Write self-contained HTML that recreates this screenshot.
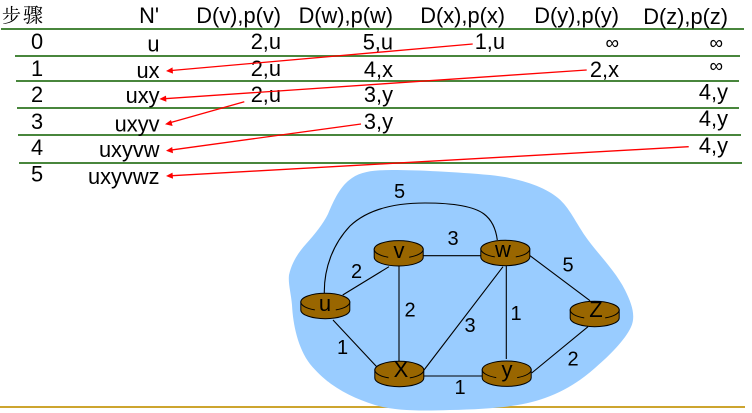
<!DOCTYPE html>
<html>
<head>
<meta charset="utf-8">
<style>
html,body{margin:0;padding:0;background:#fff;width:752px;height:413px;overflow:hidden}
svg{display:block;filter:blur(0.35px)}
text{font-family:"Liberation Sans",sans-serif;fill:#000}
.t{font-size:21.8px;text-anchor:end}
.c{font-size:21.8px;text-anchor:middle}
.n{font-size:20px;text-anchor:middle}
.r{font-size:22px;text-anchor:middle}
.g{stroke:#48863c;stroke-width:2;fill:none}
.e{stroke:#000;stroke-width:1.1;fill:none}
.a{stroke:#f00;stroke-width:1.3;fill:none}
.h{fill:#f00}
.inf{font-size:19px;text-anchor:end}
.rb{fill:#996600;stroke:#000;stroke-width:1}
.rf{fill:#996600}
.rl{fill:none;stroke:#000;stroke-width:1}
</style>
</head>
<body>
<svg width="752" height="413" viewBox="0 0 752 413" xmlns="http://www.w3.org/2000/svg">
<defs>
<g id="router">
<path class="rb" d="M-24.5 9V17A24.5 8.7 0 0 0 24.5 17V9Z"/>
<ellipse class="rf" cx="0" cy="9" rx="24.5" ry="8.7"/>
<path class="rl" d="M-24.5 9A24.5 8.7 0 0 1 24.5 9"/>
<path class="rl" d="M-24.5 9A24.5 8.7 0 0 0 -10.5 16.9"/>
<path class="rl" d="M10.5 16.9A24.5 8.7 0 0 0 24.5 9"/>
</g>
</defs>

<!-- gold baseline -->
<line x1="0" y1="407" x2="745" y2="407" stroke="#cda52f" stroke-width="2"/>

<!-- cloud -->
<path fill="#99ccff" d="M289 275C292 262 298 253 306 244C315 234 323 224 328 214C334 200 340 186 352 178C362 171 376 170 392 170C420 170 455 172 490 175C520 178 545 187 558 198C570 208 575 222 588 240C600 256 616 272 625 290C632 304 636 316 631 327C625 340 610 355 595 368C580 381 565 391 545 398C520 407 490 409 450 410C420 411 395 411 375 405C350 397 328 386 310 364C298 348 293 325 292 305C291 293 288 284 289 275Z"/>

<!-- green rules -->
<line class="g" x1="1" y1="29" x2="744" y2="29"/>
<line class="g" x1="15" y1="56" x2="740" y2="56"/>
<line class="g" x1="16" y1="81" x2="739" y2="81"/>
<line class="g" x1="17" y1="108" x2="739" y2="108"/>
<line class="g" x1="18" y1="135" x2="741" y2="135"/>
<line class="g" x1="19" y1="163" x2="742" y2="163"/>

<!-- header -->
<text x="2" y="22" style='font-family:"Noto Serif CJK SC","Liberation Serif",serif;font-size:19px'>步</text>
<text x="23" y="22" style='font-family:"Noto Serif CJK SC","Liberation Serif",serif;font-size:20px'>骤</text>
<text class="t" x="159" y="23">N'</text>
<text class="t" x="281" y="23">D(v),p(v)</text>
<text class="t" x="393" y="23">D(w),p(w)</text>
<text class="t" x="505" y="23">D(x),p(x)</text>
<text class="t" x="619" y="23">D(y),p(y)</text>
<text class="t" x="728" y="24">D(z),p(z)</text>

<!-- step numbers -->
<text class="c" x="37" y="49">0</text>
<text class="c" x="37" y="76">1</text>
<text class="c" x="37" y="102">2</text>
<text class="c" x="37" y="129">3</text>
<text class="c" x="37" y="155">4</text>
<text class="c" x="37" y="181.5">5</text>

<!-- N' column -->
<text class="t" x="159.5" y="51.5">u</text>
<text class="t" x="159.5" y="78">ux</text>
<text class="t" x="159.5" y="103">uxy</text>
<text class="t" x="159.5" y="131.5">uxyv</text>
<text class="t" x="159.5" y="157">uxyvw</text>
<text class="t" x="159.5" y="184">uxyvwz</text>

<!-- v column -->
<text class="t" x="281" y="49">2,u</text>
<text class="t" x="281" y="76">2,u</text>
<text class="t" x="281" y="102">2,u</text>

<!-- w column -->
<text class="t" x="393" y="49.5">5,u</text>
<text class="t" x="393" y="77">4,x</text>
<text class="t" x="393" y="102">3,y</text>
<text class="t" x="393" y="129">3,y</text>

<!-- x column -->
<text class="t" x="505" y="49">1,u</text>

<!-- y column -->
<text class="inf" x="619" y="49">∞</text>
<text class="t" x="619" y="77">2,x</text>

<!-- z column -->
<text class="inf" x="723" y="49">∞</text>
<text class="inf" x="723" y="72">∞</text>
<text class="t" x="728" y="99.5">4,y</text>
<text class="t" x="728" y="126">4,y</text>
<text class="t" x="728" y="153">4,y</text>

<!-- red arrows -->
<line class="a" x1="472.7" y1="44" x2="170" y2="70.6"/>
<path class="h" d="M166 71L172.5 67.4L173 73.6Z"/>
<line class="a" x1="586.7" y1="70" x2="163" y2="98.8"/>
<path class="h" d="M159.3 99L166 95.6L166.4 101.8Z"/>
<line class="a" x1="244.3" y1="101.7" x2="169" y2="123"/>
<path class="h" d="M165 124.3L171 120L172.6 126Z"/>
<line class="a" x1="361" y1="124" x2="170" y2="150.2"/>
<path class="h" d="M166 150.7L172.2 147L173 153.3Z"/>
<line class="a" x1="688.7" y1="146.7" x2="170" y2="175.8"/>
<path class="h" d="M166 176L172.5 172.6L173 178.8Z"/>

<!-- edges -->
<line class="e" x1="342.7" y1="295" x2="389" y2="266.7"/>
<line class="e" x1="333" y1="320" x2="376.7" y2="366.7"/>
<line class="e" x1="399" y1="266" x2="399" y2="361"/>
<line class="e" x1="423" y1="255.7" x2="481" y2="255.7"/>
<line class="e" x1="424" y1="376" x2="482" y2="376"/>
<line class="e" x1="424" y1="370" x2="503" y2="266.7"/>
<line class="e" x1="506.3" y1="266" x2="506.3" y2="359"/>
<line class="e" x1="530" y1="255.7" x2="590" y2="300.7"/>
<line class="e" x1="531.7" y1="373" x2="588" y2="326.7"/>
<path class="e" d="M324.3 293C324 268 333 244 350 226C368 209 396 203 425 203C448 203 472 205 484 214C492 220 496 230 497.3 240"/>

<!-- routers -->
<use href="#router" x="325.3" y="293"/>
<use href="#router" x="398.7" y="240.3"/>
<use href="#router" x="399.3" y="361"/>
<use href="#router" x="505.3" y="240"/>
<use href="#router" x="594.7" y="301"/>
<use href="#router" x="506.7" y="360.7"/>

<!-- router labels -->
<text class="r" x="325" y="311">u</text>
<text class="r" x="399" y="258">v</text>
<text class="r" x="401" y="377">X</text>
<text class="r" x="503" y="257">w</text>
<text class="r" x="596" y="317">Z</text>
<text class="r" x="507" y="377">y</text>

<!-- edge weights -->
<text class="n" x="399.5" y="198">5</text>
<text class="n" x="453" y="245">3</text>
<text class="n" x="356.5" y="278">2</text>
<text class="n" x="410" y="316.5">2</text>
<text class="n" x="342.5" y="354">1</text>
<text class="n" x="470" y="332">3</text>
<text class="n" x="460" y="394">1</text>
<text class="n" x="568" y="271.5">5</text>
<text class="n" x="516" y="320">1</text>
<text class="n" x="573" y="365.5">2</text>
</svg>
</body>
</html>
